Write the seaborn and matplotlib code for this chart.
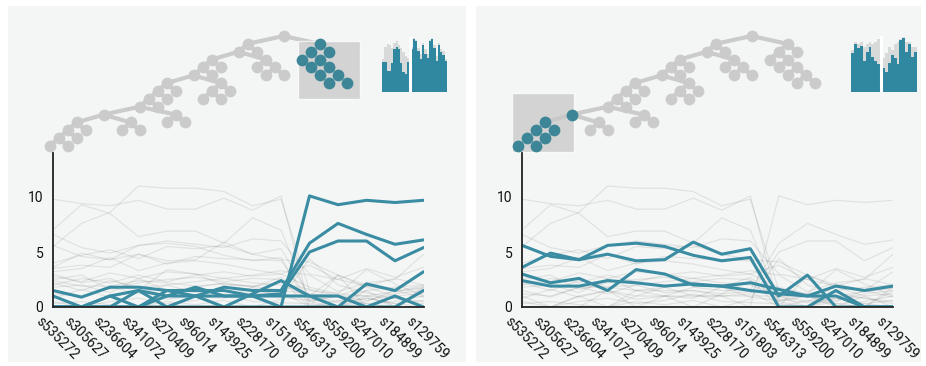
import matplotlib
matplotlib.use("Agg")
import matplotlib.pyplot as plt
import matplotlib.transforms as mtransforms
from matplotlib.patches import Rectangle
import numpy as np
import pandas as pd
import seaborn as sns

# ---- data -------------------------------------------------------------
samples = ["s535272", "s305627", "s236604", "s341072", "s270409", "s96014", "s143925",
           "s228170", "s151803", "s546313", "s559200", "s247010", "s184899", "s129759"]

# profiles of the cluster picked in the left view
left_selected = [
    [1.5, 0.9, 1.8, 1.8, 1.5, 1.5, 1.5, 1.0, 0.0, 10.1, 9.3, 9.7, 9.5, 9.7],
    [1.0, 0.0, 0.0, 1.5, 0.0, 1.0, 1.8, 1.5, 1.5, 5.8, 7.6, 6.6, 5.7, 6.1],
    [0.0, 0.0, 1.0, 1.5, 1.0, 1.8, 1.0, 1.0, 1.2, 5.0, 6.0, 6.0, 4.2, 5.4],
    [0.0, 0.0, 0.0, 0.0, 1.5, 1.0, 0.0, 1.2, 2.4, 1.0, 0.0, 0.0, 1.0, 0.0],
    [0.0, 0.0, 0.0, 0.0, 1.0, 1.0, 1.0, 1.0, 1.0, 1.0, 1.0, 0.0, 0.0, 1.5],
    [0.0, 0.0, 1.0, 0.0, 0.0, 0.0, 0.0, 0.0, 0.0, 0.0, 0.0, 2.1, 1.5, 3.2],
]
# profiles of the cluster picked in the right view
right_selected = [
    [5.6, 4.6, 4.3, 4.8, 4.2, 4.3, 5.9, 4.8, 5.3, 1.0, 2.9, 0.0, 0.0, 0.0],
    [3.6, 4.9, 4.3, 5.6, 5.8, 5.5, 4.7, 4.2, 4.5, 0.0, 0.0, 1.5, 0.0, 0.0],
    [3.0, 2.2, 2.6, 1.5, 3.4, 3.0, 2.0, 1.9, 1.5, 1.2, 1.0, 1.0, 0.0, 0.0],
    [2.4, 1.9, 1.9, 2.4, 2.2, 1.9, 2.1, 1.9, 2.2, 1.6, 1.0, 1.9, 1.5, 1.9],
]
# everything else
background_lines = [
    [9.8, 9.4, 9.2, 9.7, 8.9, 8.9, 9.9, 8.8, 10.1, 0.0, 0.6, 0.3, 0.5, 1.0],
    [5.5, 7.6, 8.6, 11.0, 10.8, 10.8, 10.5, 9.2, 9.8, 1.5, 1.2, 1.0, 1.4, 1.7],
    [7.0, 9.3, 8.5, 6.4, 6.9, 6.9, 5.8, 8.1, 7.0, 0.5, 0.0, 0.8, 0.3, 0.6],
    [4.0, 4.7, 5.2, 4.4, 5.5, 5.3, 5.6, 4.8, 4.3, 4.1, 2.9, 2.0, 1.4, 1.8],
    [3.2, 3.5, 4.5, 3.3, 4.0, 4.2, 3.9, 3.4, 3.0, 3.8, 2.5, 3.5, 2.7, 3.6],
    [2.8, 2.3, 3.1, 2.6, 3.2, 3.0, 2.6, 2.9, 3.3, 2.9, 1.4, 2.2, 2.5, 4.8],
    [2.5, 2.9, 1.6, 2.2, 2.5, 2.7, 2.3, 2.6, 2.5, 0.0, 2.9, 1.8, 1.0, 1.2],
    [2.2, 1.5, 2.4, 1.8, 2.0, 2.3, 2.6, 2.2, 2.0, 1.0, 0.5, 1.5, 1.8, 2.0],
    [1.8, 2.0, 1.3, 2.6, 1.5, 1.8, 2.2, 1.8, 2.7, 0.5, 1.0, 0.6, 1.2, 1.5],
    [1.2, 1.0, 1.8, 1.2, 2.0, 1.3, 1.5, 1.2, 1.4, 0.0, 0.0, 1.0, 0.8, 0.3],
    [0.8, 1.6, 0.9, 1.5, 0.7, 1.0, 0.8, 1.8, 0.9, 0.6, 1.0, 0.3, 0.0, 1.8],
    [0.5, 0.0, 0.5, 0.8, 0.3, 0.6, 1.2, 0.5, 0.4, 0.3, 0.0, 0.5, 1.5, 0.9],
    [6.6, 5.4, 4.9, 5.6, 6.0, 5.7, 5.4, 6.2, 6.0, 3.0, 2.5, 1.9, 2.6, 2.0],
    [3.5, 3.8, 3.6, 4.8, 3.9, 4.6, 4.4, 4.3, 4.2, 0.7, 0.4, 0.8, 0.3, 0.0],
    [2.0, 2.6, 2.2, 2.9, 2.3, 2.9, 3.2, 2.8, 3.0, 1.8, 1.2, 3.4, 2.1, 1.0],
    [0.3, 0.5, 0.2, 0.0, 0.5, 0.2, 0.6, 0.0, 0.7, 4.4, 2.0, 1.3, 0.8, 0.5],
]

# dendrogram (None = leaf), left child first
teal_cluster = [[None, [None, [None, [None, None]]]], None]
s13 = [None, None]
s12 = [s13, None]
s11 = [s12, None]
s10 = [s11, [None, None]]
s9 = [s10, [None, None]]
s8 = [s9, None]
s7 = [s8, None]
s6 = [s7, None]
s5 = [s6, [[None, None], None]]
s4 = [s5, None]
s3 = [s4, None]
s2 = [s3, [None, [None, None]]]
s1 = [s2, None]
tree = [s1, teal_cluster]

# thumbnails (relative bar heights, two groups)
left_thumb_a = [0.55, 0.55, 0.38, 0.38, 0.52, 0.78, 0.82, 0.78, 0.52, 0.36, 0.32, 0.55]
left_thumb_a_ghost = [0.60, 0.82, 0.88, 0.86, 0.80, 0.90, 0.92, 0.85, 0.80, 0.72, 0.66, 0.62]
left_thumb_b = [0.78, 0.97, 0.92, 0.74, 0.60, 0.86, 0.70, 0.62, 0.92, 0.96, 0.80, 0.56, 0.86, 0.72, 0.68, 0.56]
left_thumb_b_ghost = [0.82, 0.99, 0.95, 0.80, 0.70, 0.90, 0.78, 0.70, 0.95, 0.98, 0.85, 0.65, 0.90, 0.78, 0.74, 0.60]
right_thumb_a = [0.70, 0.86, 0.78, 0.82, 0.56, 0.72, 0.80, 0.62, 0.56, 0.50]
right_thumb_a_ghost = [0.75, 0.90, 0.85, 0.90, 0.80, 0.85, 0.90, 0.85, 0.90, 0.95]
right_thumb_b = [0.42, 0.36, 0.52, 0.66, 0.60, 0.50, 0.92, 0.97, 0.72, 0.86, 0.62, 0.72]
right_thumb_b_ghost = [0.60, 0.70, 0.80, 0.75, 0.85, 0.90, 0.95, 0.98, 0.90, 0.90, 0.80, 0.80]

TEAL = "#3a8ca2"
TEAL_NODE = "#3d8698"
NODE_GREY = "#cbcbcb"
PANEL_BG = "#f4f6f6"
AXIS = "#222222"

sns.set_style("white")
plt.rcParams["font.family"] = ["Roboto", "DejaVu Sans"]

W, H = 926, 366
fig = plt.figure(figsize=(W / 100, H / 100), dpi=100)


def px_rect(x0, y0, x1, y1):
    return [x0 / W, 1 - y1 / H, (x1 - x0) / W, (y1 - y0) / H]


def tidy(node, path=""):
    """binary tidy tree, siblings 1 apart, cousins 2 apart (d3.tree defaults)"""
    if node is None:
        return [{"x": 0.0, "d": 0, "parent": None, "path": path}], [(0.0, 0.0)]
    nl, cl = tidy(node[0], path + "L")
    nr, cr = tidy(node[1], path + "R")
    gap = max(lo[1] - ro[0] + (1 if d == 0 else 2) for d, (lo, ro) in enumerate(zip(cl, cr)))
    nodes = [{"x": 0.0, "d": 0, "parent": None, "path": path}]
    for sub, shift in ((nl, -gap / 2), (nr, gap / 2)):
        base = len(nodes)
        for n in sub:
            nodes.append({"x": n["x"] + shift, "d": n["d"] + 1,
                          "parent": 0 if n["parent"] is None else n["parent"] + base,
                          "path": n["path"]})
    contour = [(0.0, 0.0)]
    for d in range(max(len(cl), len(cr))):
        vals = []
        if d < len(cl):
            vals += [cl[d][0] - gap / 2, cl[d][1] - gap / 2]
        if d < len(cr):
            vals += [cr[d][0] + gap / 2, cr[d][1] + gap / 2]
        contour.append((min(vals), max(vals)))
    return nodes, contour


tree_nodes, _ = tidy(tree)


def long_df(lines):
    rows = []
    for i, vals in enumerate(lines):
        for j, v in enumerate(vals):
            rows.append({"line": i, "pos": j, "value": v})
    return pd.DataFrame(rows)


def draw_panel(px0, px1, root_px, sel_path, extra_nodes, box, chart_x, grey_lines, teal_lines,
               thumb_box, thumb_a, thumb_a_ghost, thumb_b, thumb_b_ghost):
    py0, py1 = 6, 362
    fig.add_artist(Rectangle((px0 / W, 1 - py1 / H), (px1 - px0) / W, (py1 - py0) / H,
                             transform=fig.transFigure, facecolor=PANEL_BG, edgecolor="none", zorder=0))

    # --- dendrogram
    ax_t = fig.add_axes(px_rect(px0, py0, px1, py1))
    ax_t.set_xlim(px0, px1)
    ax_t.set_ylim(py1, py0)
    ax_t.axis("off")
    ux, uy, root_py = 18.0, 7.86, 36.0
    xs = np.array([root_px + ux * n["x"] for n in tree_nodes])
    ys = np.array([root_py + uy * n["d"] for n in tree_nodes])
    hl = np.array([n["path"].startswith(sel_path) or n["path"] in extra_nodes for n in tree_nodes])
    for i, n in enumerate(tree_nodes):
        p = n["parent"]
        if p is None:
            continue
        if n["path"].startswith(sel_path) and tree_nodes[p]["path"].startswith(sel_path):
            continue
        ax_t.plot([xs[p], xs[i]], [ys[p], ys[i]], color=NODE_GREY, lw=3.0,
                  solid_capstyle="round", zorder=1)
    ax_t.scatter(xs[~hl], ys[~hl], s=72, color=NODE_GREY, linewidths=0, zorder=2)
    ax_t.add_patch(Rectangle((box[0], box[1]), box[2] - box[0], box[3] - box[1],
                             facecolor="#c8c8c8", alpha=0.75, edgecolor="white", lw=1.0, zorder=3))
    ax_t.scatter(xs[hl], ys[hl], s=72, color=TEAL_NODE, linewidths=0, zorder=4)

    # --- thumbnail
    ax_th = fig.add_axes(px_rect(*thumb_box))
    na, nb = len(thumb_a), len(thumb_b)
    xa = np.arange(na)
    xb = np.arange(nb) + na + 0.6
    ax_th.bar(xa, thumb_a_ghost, width=1.0, color="#9a9a9a", alpha=0.3, linewidth=0)
    ax_th.bar(xb, thumb_b_ghost, width=1.0, color="#9a9a9a", alpha=0.3, linewidth=0)
    ax_th.bar(xa, thumb_a, width=1.0, color="#2f87a0", linewidth=0)
    ax_th.bar(xb, thumb_b, width=1.0, color="#2f87a0", linewidth=0)
    ax_th.axvline(na - 0.2, color="white", lw=2.2)
    ax_th.set_xlim(-0.5, xb[-1] + 0.5)
    ax_th.set_ylim(0, 1)
    ax_th.axis("off")

    # --- line chart
    ax = fig.add_axes(px_rect(chart_x[0], 153, chart_x[1], 307))
    ax.set_facecolor("none")
    sns.lineplot(data=long_df(grey_lines), x="pos", y="value", units="line", estimator=None,
                 color="black", alpha=0.08, lw=0.9, ax=ax)
    sns.lineplot(data=long_df(teal_lines), x="pos", y="value", units="line", estimator=None,
                 color=TEAL, lw=2.2, ax=ax)
    ax.set_xlim(0, len(samples) - 1)
    ax.set_ylim(0, 14)
    ax.set_xlabel("")
    ax.set_ylabel("")
    for side in ("top", "right"):
        ax.spines[side].set_visible(False)
    for side in ("left", "bottom"):
        ax.spines[side].set_color(AXIS)
        ax.spines[side].set_linewidth(1.3)
    ax.set_yticks([0, 5, 10])
    ax.set_yticks([14], minor=True)
    ax.set_xticks(range(len(samples)))
    ax.set_xticklabels(samples, rotation=-45, ha="left", va="center", rotation_mode="anchor")
    ax.tick_params(axis="both", which="both", length=4.5, width=1.3, color=AXIS,
                   labelsize=10, labelcolor="#111111")
    ax.tick_params(axis="x", pad=0)
    ax.tick_params(axis="y", pad=2.5)
    shift = mtransforms.ScaledTranslation(-15 / 100, -6 / 100, fig.dpi_scale_trans)
    for lab in ax.get_xticklabels():
        lab.set_transform(lab.get_transform() + shift)


draw_panel(8, 466, 283.5, "R", [], (298, 41, 360, 99), (53, 423.5),
           background_lines + right_selected, left_selected,
           (382, 37, 447, 92), left_thumb_a, left_thumb_a_ghost, left_thumb_b, left_thumb_b_ghost)
draw_panel(476, 921, 751.5, "L" * 11, ["L" * 10], (512, 93, 574, 152), (522, 893),
           background_lines + left_selected, right_selected,
           (851, 36, 917, 92), right_thumb_a, right_thumb_a_ghost, right_thumb_b, right_thumb_b_ghost)

fig.savefig("out.png", dpi=100, facecolor="white")
